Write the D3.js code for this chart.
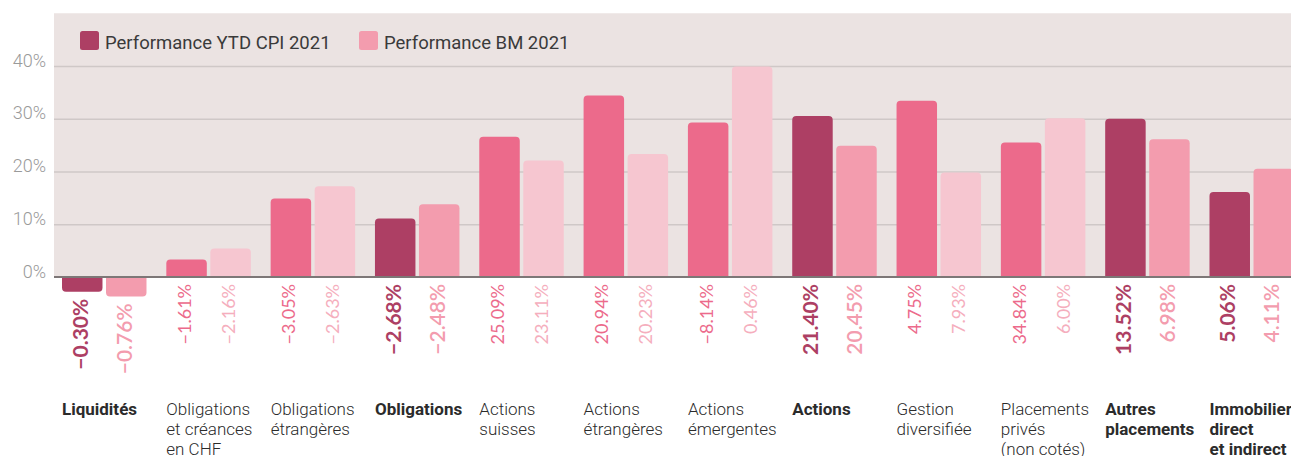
<!DOCTYPE html>
<html>
<head>
<meta charset="utf-8">
<script src="https://cdn.jsdelivr.net/npm/d3@7/dist/d3.min.js"></script>
<style>
  html, body { margin: 0; padding: 0; background: #ffffff; }
  svg { display: block; }
</style>
</head>
<body>
<svg id="chart" width="1291" height="456"></svg>
<script>
// Asset classes (line breaks mark wrapped labels)
const categories = [
  "Liquidités",
  "Obligations\net créances\nen CHF",
  "Obligations\nétrangères",
  "Obligations",
  "Actions\nsuisses",
  "Actions\nétrangères",
  "Actions\némergentes",
  "Actions",
  "Gestion\ndiversifiée",
  "Placements\nprivés\n(non cotés)",
  "Autres\nplacements",
  "Immobilier\ndirect\net indirect"
];
// Aggregate classes are drawn in stronger colours and bold labels
const isTotal = [true, false, false, true, false, false, false, true, false, false, true, true];

// Bar heights (%)
const barCPI = [-2.8, 3.3, 14.9, 11.1, 26.6, 34.4, 29.3, 30.5, 33.4, 25.5, 30.0, 16.1];
const barBM  = [-3.7, 5.4, 17.2, 13.8, 22.1, 23.3, 39.9, 24.9, 19.8, 30.1, 26.1, 20.5];

// Performance figures printed under the bars (%)
const textCPI = [-0.30, -1.61, -3.05, -2.68, 25.09, 20.94, -8.14, 21.40, 4.75, 34.84, 13.52, 5.06];
const textBM  = [-0.76, -2.16, -2.63, -2.48, 23.11, 20.23, 0.46, 20.45, 7.93, 6.00, 6.98, 4.11];

const seriesKeys = ["cpi", "bm"];
const seriesNames = ["Performance YTD CPI 2021", "Performance BM 2021"];
const yTicks = [0, 10, 20, 30, 40];

const colors = {
  cpi: { total: "#ad3f64", detail: "#ec6a8b" },
  bm:  { total: "#f39cae", detail: "#f6c6d0" }
};
const textColors = {
  cpi: { total: "#ad3f64", detail: "#ec6a8b" },
  bm:  { total: "#f39cae", detail: "#f5aebd" }
};

const W = 1291, H = 456;
const svg = d3.select("#chart");

const x0 = d3.scaleBand().domain(categories).range([62, 1294]).paddingInner(0.19).paddingOuter(0);
const x1 = d3.scaleBand().domain(seriesKeys).range([0, x0.bandwidth()]).paddingInner(0.08);
const y = d3.scaleLinear().domain([0, 40]).range([277, 66]);

// Plot background
svg.append("rect")
  .attr("x", 54).attr("y", y(50))
  .attr("width", W - 54).attr("height", y(0) - y(50))
  .attr("fill", "#ebe3e2");

// Gridlines and y labels
const yAxis = d3.axisLeft(y).tickValues(yTicks)
  .tickFormat(d => d + "%")
  .tickSizeInner(-(W - 54)).tickSizeOuter(0).tickPadding(8);
const gy = svg.append("g").attr("transform", "translate(54,0)").call(yAxis);
gy.select(".domain").remove();
gy.selectAll(".tick line")
  .attr("stroke", "#cfc8c7").attr("stroke-width", 1.5)
  .attr("display", d => d === 0 ? "none" : null);
gy.selectAll(".tick text")
  .attr("dy", "0")
  .attr("fill", "#9a9a9a")
  .style("font-family", "Roboto, sans-serif")
  .style("font-weight", 300)
  .style("font-size", "18px");

// Bar with rounded outer end
function barPath(x, w, v) {
  const r = 4;
  const y0 = y(0), y1 = y(v);
  if (v >= 0) {
    return `M${x},${y0}V${y1 + r}Q${x},${y1} ${x + r},${y1}H${x + w - r}Q${x + w},${y1} ${x + w},${y1 + r}V${y0}Z`;
  }
  return `M${x},${y0}V${y1 - r}Q${x},${y1} ${x + r},${y1}H${x + w - r}Q${x + w},${y1} ${x + w},${y1 - r}V${y0}Z`;
}

const rows = categories.map((c, i) => ({
  cat: c, total: isTotal[i],
  items: [
    { key: "cpi", bar: barCPI[i], text: textCPI[i] },
    { key: "bm",  bar: barBM[i],  text: textBM[i] }
  ]
}));

const groups = svg.append("g").selectAll("g.group").data(rows).join("g")
  .attr("class", "group")
  .attr("transform", d => `translate(${x0(d.cat)},0)`);

groups.selectAll("path.bar").data(d => d.items.map(it => ({ ...it, total: d.total }))).join("path")
  .attr("class", "bar")
  .attr("d", d => barPath(x1(d.key), x1.bandwidth(), d.bar))
  .attr("fill", d => colors[d.key][d.total ? "total" : "detail"]);

// Zero line
svg.append("line")
  .attr("x1", 54).attr("x2", W)
  .attr("y1", y(0)).attr("y2", y(0))
  .attr("stroke", "#7d7777").attr("stroke-width", 2);

// Rotated value labels
const fmt = d3.format(".2f");
groups.selectAll("text.val").data(d => d.items.map(it => ({ ...it, total: d.total }))).join("text")
  .attr("class", "val")
  .attr("transform", d => {
    const cx = x1(d.key) + x1.bandwidth() / 2 - 1.5;
    const top = Math.max(y(0), y(d.bar)) + 7;
    return `translate(${cx},${top}) rotate(-90)`;
  })
  .attr("text-anchor", "end")
  .attr("dy", "0.33em")
  .attr("fill", d => textColors[d.key][d.total ? "total" : "detail"])
  .style("font-family", "Lato, sans-serif")
  .style("font-size", d => d.total ? "21px" : "18px")
  .style("font-weight", d => d.total ? (d.key === "cpi" ? 700 : 600) : 400)
  .text(d => fmt(d.text) + "%");

// Category labels
groups.append("text")
  .attr("y", 415)
  .attr("fill", "#2b2b2b")
  .style("font-family", "Roboto, sans-serif")
  .style("font-size", "17px")
  .style("font-weight", d => d.total ? 700 : 300)
  .selectAll("tspan").data(d => d.cat.split("\n")).join("tspan")
  .attr("x", 0)
  .attr("dy", (d, i) => i === 0 ? 0 : 20)
  .text(d => d);

// Legend
const legendX = [80, 359];
const legend = svg.append("g").selectAll("g").data(seriesKeys).join("g")
  .attr("transform", (d, i) => `translate(${legendX[i]},31)`);
legend.append("rect")
  .attr("width", 19).attr("height", 19).attr("rx", 2.5)
  .attr("fill", d => colors[d].total);
legend.append("text")
  .attr("x", 25).attr("y", 17.5)
  .attr("fill", "#3a3a3a")
  .style("font-family", "Roboto, sans-serif")
  .style("font-size", "18.5px")
  .style("font-weight", 400)
  .text((d, i) => seriesNames[i]);
</script>
</body>
</html>
